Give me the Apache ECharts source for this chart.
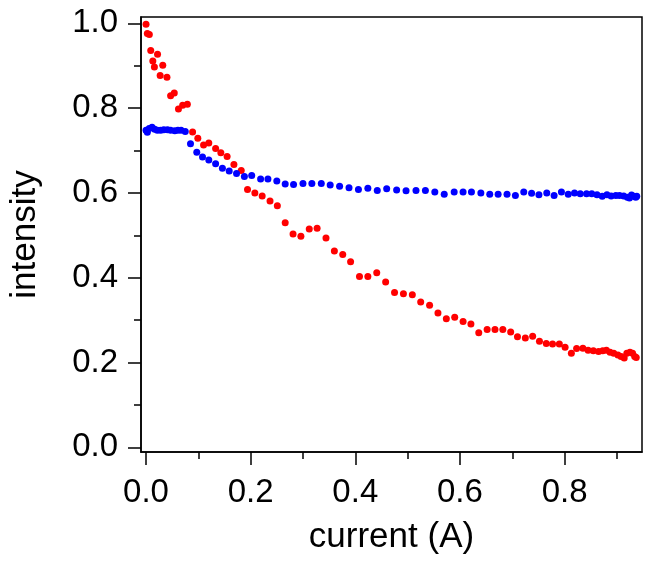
<!DOCTYPE html>
<html>
<head>
<meta charset="utf-8">
<script src="https://cdn.jsdelivr.net/npm/echarts@6/dist/echarts.min.js"></script>
<style>
  html, body { margin: 0; padding: 0; background: #fff; }
  #chart { width: 652px; height: 567px; }
</style>
</head>
<body>
<div id="chart"></div>
<script>
// --- DATA ---
const redX = [0.000, 0.0025, 0.0063, 0.009, 0.013, 0.016, 0.022, 0.027, 0.032, 0.040,
  0.047, 0.054, 0.062, 0.070, 0.079, 0.089, 0.099, 0.110, 0.120, 0.133,
  0.143, 0.155, 0.168, 0.182, 0.194, 0.208, 0.222, 0.237, 0.251, 0.266,
  0.281, 0.296, 0.312, 0.327, 0.344, 0.360, 0.376, 0.391, 0.408, 0.424,
  0.441, 0.458, 0.475, 0.492, 0.509, 0.525, 0.542, 0.558, 0.574, 0.590,
  0.606, 0.621, 0.636, 0.652, 0.667, 0.682, 0.697, 0.710, 0.725, 0.739,
  0.752, 0.765, 0.777, 0.790, 0.801, 0.813, 0.823, 0.835, 0.845, 0.855,
  0.865, 0.873, 0.880, 0.887, 0.894, 0.902, 0.908, 0.914, 0.919, 0.925,
  0.930, 0.934, 0.937];
const redY = [0.998, 0.976, 0.974, 0.936, 0.911, 0.897, 0.927, 0.877, 0.901, 0.873,
  0.829, 0.836, 0.798, 0.807, 0.809, 0.744, 0.729, 0.713, 0.718, 0.705,
  0.695, 0.686, 0.667, 0.653, 0.608, 0.600, 0.593, 0.581, 0.570, 0.530,
  0.503, 0.498, 0.515, 0.517, 0.494, 0.463, 0.455, 0.438, 0.403, 0.403,
  0.412, 0.390, 0.365, 0.362, 0.360, 0.343, 0.335, 0.317, 0.303, 0.307,
  0.297, 0.291, 0.270, 0.278, 0.278, 0.278, 0.272, 0.261, 0.258, 0.262,
  0.250, 0.245, 0.244, 0.244, 0.236, 0.222, 0.233, 0.234, 0.229, 0.228,
  0.226, 0.228, 0.229, 0.224, 0.222, 0.218, 0.214, 0.211, 0.222, 0.224,
  0.222, 0.214, 0.212];

const blueX = [0.000, 0.0025, 0.006, 0.0115, 0.0166, 0.0216, 0.028, 0.034, 0.041, 0.047,
  0.055, 0.061, 0.067, 0.075, 0.085, 0.097, 0.108, 0.120, 0.133, 0.146,
  0.159, 0.173, 0.188, 0.202, 0.219, 0.233, 0.250, 0.266, 0.282, 0.300,
  0.317, 0.335, 0.352, 0.370, 0.388, 0.406, 0.424, 0.442, 0.460, 0.479,
  0.497, 0.516, 0.534, 0.552, 0.570, 0.589, 0.606, 0.622, 0.640, 0.657,
  0.673, 0.690, 0.706, 0.722, 0.737, 0.751, 0.766, 0.780, 0.794, 0.807,
  0.819, 0.830, 0.842, 0.852, 0.862, 0.872, 0.881, 0.889, 0.898, 0.905,
  0.913, 0.920, 0.924, 0.928, 0.932, 0.936, 0.938];
const blueY = [0.748, 0.743, 0.752, 0.755, 0.750, 0.748, 0.748, 0.749, 0.749, 0.748,
  0.747, 0.748, 0.748, 0.745, 0.716, 0.696, 0.685, 0.678, 0.669, 0.658,
  0.652, 0.646, 0.639, 0.641, 0.633, 0.633, 0.628, 0.621, 0.620, 0.622,
  0.622, 0.622, 0.619, 0.616, 0.612, 0.608, 0.611, 0.606, 0.610, 0.607,
  0.605, 0.606, 0.606, 0.602, 0.597, 0.602, 0.602, 0.602, 0.600, 0.597,
  0.597, 0.597, 0.594, 0.602, 0.599, 0.596, 0.600, 0.594, 0.602, 0.597,
  0.600, 0.598, 0.598, 0.598, 0.596, 0.592, 0.596, 0.593, 0.594, 0.594,
  0.593, 0.590, 0.588, 0.595, 0.592, 0.590, 0.592];

const xMajor = [0, 0.2, 0.4, 0.6, 0.8];
const xMinor = [0.1, 0.3, 0.5, 0.7, 0.9];
const yMajor = [0, 0.2, 0.4, 0.6, 0.8, 1.0];
const yMinor = [0.1, 0.3, 0.5, 0.7, 0.9];

// --- CHART ---
const font = '"Liberation Sans", Arial, sans-serif';
const zip = (xs, ys) => xs.map((x, i) => [x, ys[i]]);
const lineStyle = { color: '#000', width: 1.5 };

const xBase = { type: 'value', min: -0.0096, max: 0.948, position: 'bottom', splitLine: { show: false } };
const yBase = { type: 'value', min: -0.011, max: 1.015, position: 'left', splitLine: { show: false } };

const chart = echarts.init(document.getElementById('chart'));
chart.setOption({
  animation: false,
  backgroundColor: '#fff',
  grid: { left: 141, right: 10, top: 17, bottom: 115, show: true, borderColor: '#000', borderWidth: 1.5, containLabel: false },
  xAxis: [
    {
      ...xBase,
      name: 'current (A)', nameLocation: 'middle', nameGap: 68,
      nameTextStyle: { fontFamily: font, fontSize: 35, color: '#000' },
      axisLine: { show: true, onZero: false, lineStyle },
      axisTick: { show: true, length: 13, lineStyle, customValues: xMajor },
      axisLabel: { show: true, margin: 24, fontFamily: font, fontSize: 33, color: '#000',
        customValues: xMajor, formatter: v => v.toFixed(1) }
    },
    {
      ...xBase,
      axisLine: { show: false, onZero: false },
      axisTick: { show: true, length: 7, lineStyle, customValues: xMinor },
      axisLabel: { show: false }
    }
  ],
  yAxis: [
    {
      ...yBase,
      name: 'intensity', nameLocation: 'middle', nameGap: 98,
      nameTextStyle: { fontFamily: font, fontSize: 35, color: '#000' },
      axisLine: { show: true, onZero: false, lineStyle },
      axisTick: { show: true, length: 13, lineStyle, customValues: yMajor },
      axisLabel: { show: true, margin: 23, fontFamily: font, fontSize: 33, color: '#000',
        customValues: yMajor, formatter: v => v.toFixed(1) }
    },
    {
      ...yBase,
      axisLine: { show: false, onZero: false },
      axisTick: { show: true, length: 7, lineStyle, customValues: yMinor },
      axisLabel: { show: false }
    }
  ],
  series: [
    {
      type: 'scatter', xAxisIndex: 0, yAxisIndex: 0,
      data: zip(redX, redY), symbol: 'circle', symbolSize: 7,
      itemStyle: { color: '#ff0000', opacity: 1 }
    },
    {
      type: 'scatter', xAxisIndex: 0, yAxisIndex: 0,
      data: zip(blueX, blueY), symbol: 'circle', symbolSize: 7,
      itemStyle: { color: '#0000ff', opacity: 1 }
    }
  ]
});
</script>
</body>
</html>
